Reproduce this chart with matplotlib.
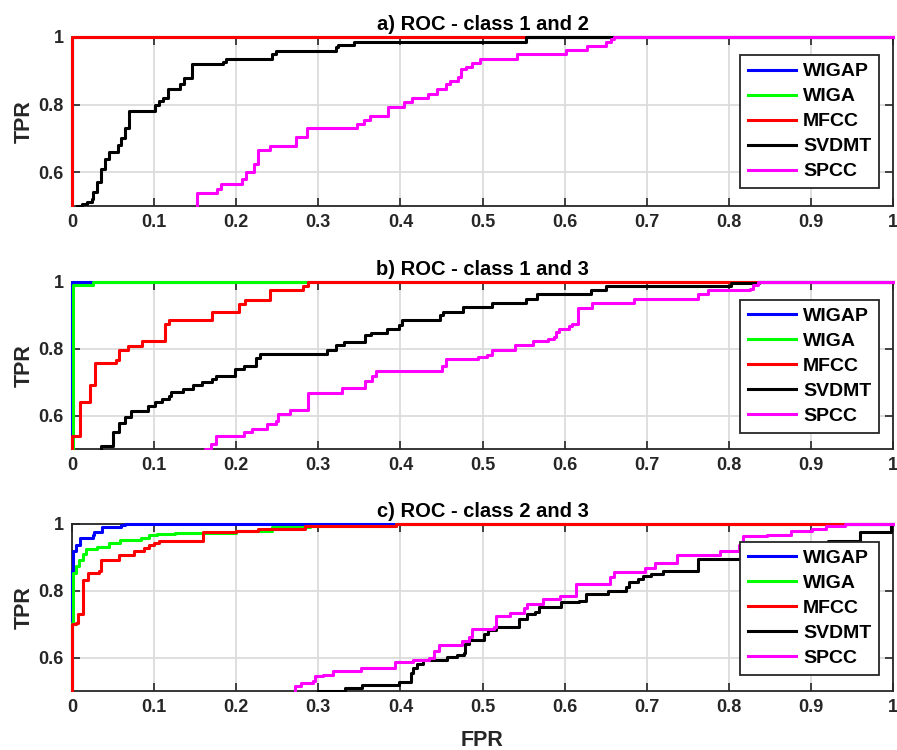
import matplotlib
matplotlib.use('Agg')
import matplotlib.pyplot as plt
from matplotlib.transforms import Bbox, TransformedBbox

plt.rcParams['font.family'] = ['Liberation Sans', 'DejaVu Sans']

methods = ['WIGAP', 'WIGA', 'MFCC', 'SVDMT', 'SPCC']
colors = ['#0000ff', '#00ff00', '#ff0000', '#000000', '#ff00ff']
titles = ['a) ROC - class 1 and 2', 'b) ROC - class 1 and 3', 'c) ROC - class 2 and 3']
xticks = [0, 0.1, 0.2, 0.3, 0.4, 0.5, 0.6, 0.7, 0.8, 0.9, 1]
xtick_labels = ['0', '0.1', '0.2', '0.3', '0.4', '0.5', '0.6', '0.7', '0.8', '0.9', '1']
yticks = [0.6, 0.8, 1.0]
ytick_labels = ['0.6', '0.8', '1']

# ---------- panel a (class 1 and 2) ----------
a_wigap_fpr = [0, 0, 1]
a_wigap_tpr = [0.45, 1.0, 1.0]
a_wiga_fpr = [0, 0, 1]
a_wiga_tpr = [0.45, 1.0, 1.0]
a_mfcc_fpr = [0, 0, 1]
a_mfcc_tpr = [0.45, 1.0, 1.0]
a_svdmt_fpr = [0.004, 0.006, 0.012, 0.018, 0.024, 0.026, 0.030, 0.035, 0.040, 0.045, 0.056, 0.060,
               0.065, 0.069, 0.101, 0.106, 0.111, 0.117, 0.131, 0.136, 0.146, 0.184, 0.188, 0.244,
               0.248, 0.322, 0.324, 0.343, 0.553, 1.0]
a_svdmt_tpr = [0.45, 0.50, 0.505, 0.513, 0.52, 0.54, 0.57, 0.61, 0.64, 0.66, 0.68, 0.70,
               0.73, 0.78, 0.80, 0.81, 0.82, 0.845, 0.86, 0.88, 0.92, 0.925, 0.936, 0.95,
               0.96, 0.97, 0.975, 0.985, 1.0, 1.0]
a_spcc_fpr = [0.150, 0.152, 0.177, 0.182, 0.207, 0.212, 0.222, 0.226, 0.241, 0.273, 0.286, 0.347,
              0.356, 0.363, 0.385, 0.404, 0.414, 0.434, 0.445, 0.455, 0.460, 0.470, 0.474, 0.480,
              0.487, 0.497, 0.542, 0.602, 0.627, 0.650, 0.657, 0.660, 1.0]
a_spcc_tpr = [0.45, 0.537, 0.55, 0.565, 0.58, 0.60, 0.624, 0.665, 0.678, 0.703, 0.731, 0.743,
              0.754, 0.767, 0.792, 0.807, 0.82, 0.832, 0.847, 0.861, 0.871, 0.883, 0.906, 0.911,
              0.923, 0.936, 0.95, 0.962, 0.972, 0.985, 0.995, 1.0, 1.0]

# ---------- panel b (class 1 and 3) ----------
b_wigap_fpr = [0, 0, 1]
b_wigap_tpr = [0.45, 1.0, 1.0]
b_wiga_fpr = [0.001, 0.001, 0.025, 1]
b_wiga_tpr = [0.45, 0.99, 1.0, 1.0]
b_mfcc_fpr = [0, 0, 0.0097, 0.022, 0.028, 0.054, 0.057, 0.068, 0.085, 0.113, 0.118, 0.171,
              0.203, 0.211, 0.241, 0.281, 0.288, 1.0]
b_mfcc_tpr = [0.45, 0.54, 0.64, 0.693, 0.757, 0.767, 0.795, 0.807, 0.823, 0.875, 0.885, 0.91,
              0.935, 0.947, 0.975, 0.987, 1.0, 1.0]
b_svdmt_fpr = [0.034, 0.035, 0.050, 0.057, 0.064, 0.072, 0.093, 0.101, 0.110, 0.118, 0.121, 0.135,
               0.147, 0.158, 0.170, 0.175, 0.199, 0.209, 0.224, 0.229, 0.310, 0.321, 0.331, 0.357,
               0.364, 0.384, 0.398, 0.402, 0.448, 0.452, 0.476, 0.511, 0.553, 0.566, 0.632, 0.651,
               0.803, 0.837, 1.0]
b_svdmt_tpr = [0.45, 0.51, 0.55, 0.577, 0.595, 0.615, 0.63, 0.642, 0.65, 0.66, 0.67, 0.68,
               0.693, 0.70, 0.71, 0.718, 0.74, 0.75, 0.773, 0.785, 0.795, 0.81, 0.82, 0.84,
               0.847, 0.858, 0.87, 0.885, 0.90, 0.91, 0.925, 0.937, 0.95, 0.963, 0.975, 0.987,
               0.997, 1.0, 1.0]
b_spcc_fpr = [0.160, 0.162, 0.169, 0.175, 0.210, 0.219, 0.238, 0.248, 0.251, 0.266, 0.287, 0.329,
              0.357, 0.365, 0.370, 0.451, 0.455, 0.495, 0.505, 0.511, 0.539, 0.561, 0.580, 0.587,
              0.589, 0.593, 0.605, 0.609, 0.616, 0.633, 0.685, 0.762, 0.775, 0.826, 0.830, 0.836, 1.0]
b_spcc_tpr = [0.45, 0.50, 0.515, 0.54, 0.55, 0.56, 0.575, 0.585, 0.605, 0.617, 0.667, 0.683,
              0.705, 0.72, 0.733, 0.75, 0.77, 0.775, 0.78, 0.795, 0.81, 0.823, 0.83, 0.835,
              0.85, 0.86, 0.868, 0.875, 0.923, 0.937, 0.95, 0.963, 0.975, 0.98, 0.99, 1.0, 1.0]

# ---------- panel c (class 2 and 3) ----------
c_wigap_fpr = [0, 0, 0.001, 0.005, 0.010, 0.025, 0.027, 0.036, 0.060, 0.065, 1.0]
c_wigap_tpr = [0.45, 0.86, 0.918, 0.937, 0.957, 0.967, 0.977, 0.992, 0.996, 1.0, 1.0]
c_wiga_fpr = [0, 0, 0.001, 0.005, 0.009, 0.013, 0.017, 0.030, 0.045, 0.059, 0.084, 0.094,
              0.104, 0.126, 0.200, 0.243, 0.290, 0.395, 1.0]
c_wiga_tpr = [0.45, 0.704, 0.853, 0.875, 0.893, 0.91, 0.925, 0.932, 0.942, 0.952, 0.957, 0.967,
              0.97, 0.974, 0.98, 0.992, 0.995, 1.0, 1.0]
c_mfcc_fpr = [0, 0, 0.005, 0.007, 0.013, 0.019, 0.033, 0.035, 0.057, 0.076, 0.088, 0.094,
              0.100, 0.106, 0.160, 0.200, 0.226, 0.284, 0.395, 1.0]
c_mfcc_tpr = [0.45, 0.70, 0.704, 0.732, 0.833, 0.853, 0.858, 0.893, 0.908, 0.918, 0.928, 0.937,
              0.942, 0.95, 0.977, 0.98, 0.984, 0.994, 1.0, 1.0]
c_svdmt_fpr = [0.290, 0.300, 0.333, 0.353, 0.398, 0.413, 0.415, 0.420, 0.427, 0.457, 0.469, 0.477,
               0.479, 0.484, 0.502, 0.507, 0.517, 0.544, 0.554, 0.564, 0.569, 0.596, 0.618, 0.626,
               0.653, 0.675, 0.678, 0.690, 0.695, 0.705, 0.720, 0.762, 0.850, 0.900, 0.921, 0.960,
               0.997, 1.0]
c_svdmt_tpr = [0.45, 0.50, 0.509, 0.519, 0.527, 0.554, 0.568, 0.58, 0.593, 0.603, 0.608, 0.613,
               0.642, 0.652, 0.672, 0.682, 0.692, 0.716, 0.731, 0.736, 0.751, 0.766, 0.77, 0.79,
               0.80, 0.81, 0.825, 0.834, 0.844, 0.849, 0.859, 0.894, 0.92, 0.94, 0.948, 0.977,
               1.0, 1.0]
c_spcc_fpr = [0.270, 0.272, 0.279, 0.294, 0.296, 0.306, 0.318, 0.352, 0.393, 0.415, 0.435, 0.441,
              0.447, 0.475, 0.484, 0.487, 0.514, 0.517, 0.534, 0.550, 0.554, 0.574, 0.594, 0.614,
              0.655, 0.660, 0.698, 0.710, 0.737, 0.789, 0.812, 0.817, 0.847, 0.876, 0.901, 0.918,
              0.941, 1.0]
c_spcc_tpr = [0.45, 0.516, 0.524, 0.529, 0.544, 0.549, 0.559, 0.568, 0.586, 0.593, 0.60, 0.62,
              0.637, 0.65, 0.662, 0.685, 0.692, 0.726, 0.734, 0.75, 0.76, 0.775, 0.783, 0.82,
              0.84, 0.856, 0.869, 0.884, 0.908, 0.918, 0.938, 0.963, 0.967, 0.98, 0.984, 0.994,
              1.0, 1.0]

panels = [
    [(a_wigap_fpr, a_wigap_tpr), (a_wiga_fpr, a_wiga_tpr), (a_mfcc_fpr, a_mfcc_tpr),
     (a_svdmt_fpr, a_svdmt_tpr), (a_spcc_fpr, a_spcc_tpr)],
    [(b_wigap_fpr, b_wigap_tpr), (b_wiga_fpr, b_wiga_tpr), (b_mfcc_fpr, b_mfcc_tpr),
     (b_svdmt_fpr, b_svdmt_tpr), (b_spcc_fpr, b_spcc_tpr)],
    [(c_wigap_fpr, c_wigap_tpr), (c_wiga_fpr, c_wiga_tpr), (c_mfcc_fpr, c_mfcc_tpr),
     (c_svdmt_fpr, c_svdmt_tpr), (c_spcc_fpr, c_spcc_tpr)],
]

W, H = 897, 750
fig = plt.figure(figsize=(W / 100, H / 100), dpi=100)
left, right = 72, 893
boxes = [(37, 206), (282, 449), (524, 691)]
axcol = '#262626'

for i, (top, bot) in enumerate(boxes):
    ax = fig.add_axes([left / W, 1 - bot / H, (right - left) / W, (bot - top) / H])
    pw, ph = right - left, bot - top
    dx, dy = 2.0 / pw, 2.0 / ph
    clip = TransformedBbox(Bbox([[-dx, -dy * 0.6], [1 + dx, 1 + dy]]), ax.transAxes)
    for (fpr, tpr), name, col in zip(panels[i], methods, colors):
        ln, = ax.plot(fpr, tpr, drawstyle='steps-post', color=col, lw=2.2, label=name)
        ln.set_clip_box(clip)
    ax.set_xlim(0, 1)
    ax.set_ylim(0.5, 1)
    ax.set_xticks(xticks)
    ax.set_xticklabels(xtick_labels, fontweight='bold')
    ax.set_yticks(yticks)
    ax.set_yticklabels(ytick_labels, fontweight='bold')
    ax.grid(True, color='#dcdcdc', lw=1.3)
    ax.set_axisbelow(True)
    ax.tick_params(direction='in', top=True, right=True, length=6, width=1.2,
                   labelsize=13, pad=6, color=axcol, labelcolor=axcol)
    for s in ax.spines.values():
        s.set_linewidth(1.3)
        s.set_color(axcol)
        s.set_zorder(1.5)
    ax.set_title(titles[i], fontsize=14.5, fontweight='bold', pad=5)
    ax.set_ylabel('TPR', fontsize=15.5, fontweight='bold', labelpad=3, color=axcol)
    leg = ax.legend(loc='upper right', bbox_to_anchor=(0.983, 0.893), borderaxespad=0,
                    prop={'weight': 'bold', 'size': 14}, handlelength=2.5,
                    fancybox=False, framealpha=1, edgecolor=axcol,
                    labelspacing=0.38, borderpad=0.4, handletextpad=0.35)
    leg.get_frame().set_linewidth(1.3)
    leg.set_zorder(10)
    if i == 2:
        ax.set_xlabel('FPR', fontsize=15.5, fontweight='bold', labelpad=10, color=axcol)

fig.savefig('out.png', dpi=100)
